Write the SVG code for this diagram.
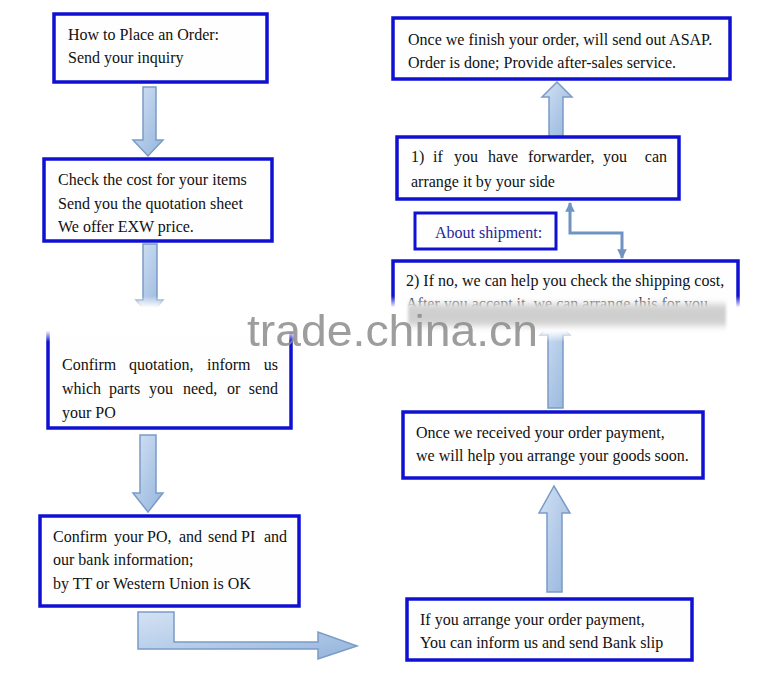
<svg xmlns="http://www.w3.org/2000/svg" width="781" height="690" viewBox="0 0 781 690">
<defs>
<style>
.box{fill:#fefefe;stroke:#1010d2;stroke-width:3.5}
.t{font-family:"Liberation Serif","Times New Roman",serif;font-size:16px;fill:#111}
.e{text-anchor:end}
.arr{fill:url(#ag);stroke:#7b9bc6;stroke-width:1.5;stroke-linejoin:miter}
.conn{fill:none;stroke:#7094c2;stroke-width:3}
</style>
<linearGradient id="ag" x1="0" y1="0" x2="1" y2="1">
<stop offset="0" stop-color="#d3e2f4"/>
<stop offset="1" stop-color="#94b4dc"/>
</linearGradient>
<linearGradient id="band" x1="0" y1="0" x2="0" y2="1">
<stop offset="0" stop-color="#fff" stop-opacity="0"/>
<stop offset="0.25" stop-color="#fff" stop-opacity="1"/>
<stop offset="0.75" stop-color="#fff" stop-opacity="1"/>
<stop offset="1" stop-color="#fff" stop-opacity="0"/>
</linearGradient>
<filter id="blur" x="-0.1" y="-0.5" width="1.2" height="2"><feGaussianBlur stdDeviation="1.5 3"/></filter>
<marker id="ah" viewBox="0 0 10 10" refX="9" refY="5" markerWidth="3.2" markerHeight="3.2" orient="auto-start-reverse" markerUnits="strokeWidth">
<path d="M0,0 L10,5 L0,10 Z" fill="#7094c2"/>
</marker>
</defs>
<rect width="781" height="690" fill="#fff"/>

<g id="connectors">
<polygon class="arr" points="143,87 156,87 156,140 163,140 148,156 133,140 143,140"/>
<polygon class="arr" points="143,244 157,244 157,300 163,300 150,316 136,300 143,300"/>
<polygon class="arr" points="140,435 156,435 156,493 163,493 148,512 133,493 140,493"/>
<polygon class="arr" points="138,612 174,612 174,642 318,642 318,632 357,646 318,659 318,649 138,649"/>
<polygon class="arr" points="547,592 562,592 562,513 570,513 554,486 539,513 547,513"/>
<polygon class="arr" points="548,408 563,408 563,335 570,335 555,320 540,335 548,335"/>
<polygon class="arr" points="549,137 563,137 563,97 572,97 557,82 542,97 549,97"/>
<path class="conn" d="M622,258 L622,233 L570,233 L570,203" marker-start="url(#ah)" marker-end="url(#ah)"/>
</g>

<g id="n1">
<rect class="box" x="54" y="14" width="213" height="68"/>
<text class="t" x="68" y="40">How to Place an Order:</text>
<text class="t" x="68" y="63">Send your inquiry</text>
</g>

<g id="n2">
<rect class="box" x="44" y="159" width="228" height="82"/>
<text class="t" x="58" y="185">Check the cost for your items</text>
<text class="t" x="58" y="209">Send you the quotation sheet</text>
<text class="t" x="58" y="232">We offer EXW price.</text>
</g>

<g id="n3">
<rect class="box" x="48" y="318" width="243" height="110"/>
<text class="t" x="62" y="370">Confirm</text>
<text class="t" x="129" y="370">quotation,</text>
<text class="t" x="207" y="370">inform</text>
<text class="t e" x="278" y="370">us</text>
<text class="t" x="62" y="394">which</text>
<text class="t" x="109" y="394">parts</text>
<text class="t" x="149" y="394">you</text>
<text class="t" x="183" y="394">need,</text>
<text class="t" x="227" y="394">or</text>
<text class="t e" x="278" y="394">send</text>
<text class="t" x="62" y="418">your PO</text>
</g>

<g id="n4">
<rect class="box" x="40" y="516" width="259" height="90"/>
<text class="t" x="53" y="542">Confirm</text>
<text class="t" x="114" y="542">your</text>
<text class="t" x="147" y="542">PO,</text>
<text class="t" x="179" y="542">and</text>
<text class="t" x="208" y="542">send</text>
<text class="t" x="241" y="542">PI</text>
<text class="t e" x="287" y="542">and</text>
<text class="t" x="53" y="565">our bank information;</text>
<text class="t" x="53" y="589">by TT or Western Union is OK</text>
</g>

<g id="n5">
<rect class="box" x="407" y="599" width="285" height="61"/>
<text class="t" x="420" y="625">If you arrange your order payment,</text>
<text class="t" x="420" y="648">You can inform us and send Bank slip</text>
</g>

<g id="n6">
<rect class="box" x="403" y="412" width="300" height="66"/>
<text class="t" x="416" y="438">Once we received your order payment,</text>
<text class="t" x="416" y="461">we will help you arrange your goods soon.</text>
</g>

<g id="n7">
<rect class="box" x="393" y="261" width="345" height="60"/>
<text class="t" x="406" y="286">2) If no, we can help you check the shipping cost,</text>
<text class="t" x="406" y="309">After you accept it, we can arrange this for you</text>
</g>

<g id="n8">
<rect class="box" x="415" y="213" width="141" height="36" style="stroke-width:3"/>
<text class="t" x="435" y="238" style="fill:#1e1e9c">About shipment:</text>
</g>

<g id="n9">
<rect class="box" x="397" y="137" width="282" height="62"/>
<text class="t" x="411" y="162">1)</text>
<text class="t" x="433" y="162">if</text>
<text class="t" x="454" y="162">you</text>
<text class="t" x="488" y="162">have</text>
<text class="t" x="528" y="162">forwarder,</text>
<text class="t" x="603" y="162">you</text>
<text class="t e" x="667" y="162">can</text>
<text class="t" x="411" y="187">arrange it by your side</text>
</g>

<g id="n10">
<rect class="box" x="393" y="18" width="337" height="61"/>
<text class="t" x="408" y="45">Once we finish your order, will send out ASAP.</text>
<text class="t" x="408" y="68">Order is done; Provide after-sales service.</text>
</g>

<g id="watermark">
<rect x="0" y="296" width="781" height="46" fill="url(#band)"/>
<rect x="408" y="304" width="318" height="22" fill="#8a8a8a" opacity="0.4" filter="url(#blur)"/>
<text x="247" y="346" textLength="291" lengthAdjust="spacingAndGlyphs" style="font-family:'Liberation Sans',Arial,sans-serif;font-size:44px;fill:#8c8c8c;opacity:0.85">trade.china.cn</text>
</g>
</svg>
